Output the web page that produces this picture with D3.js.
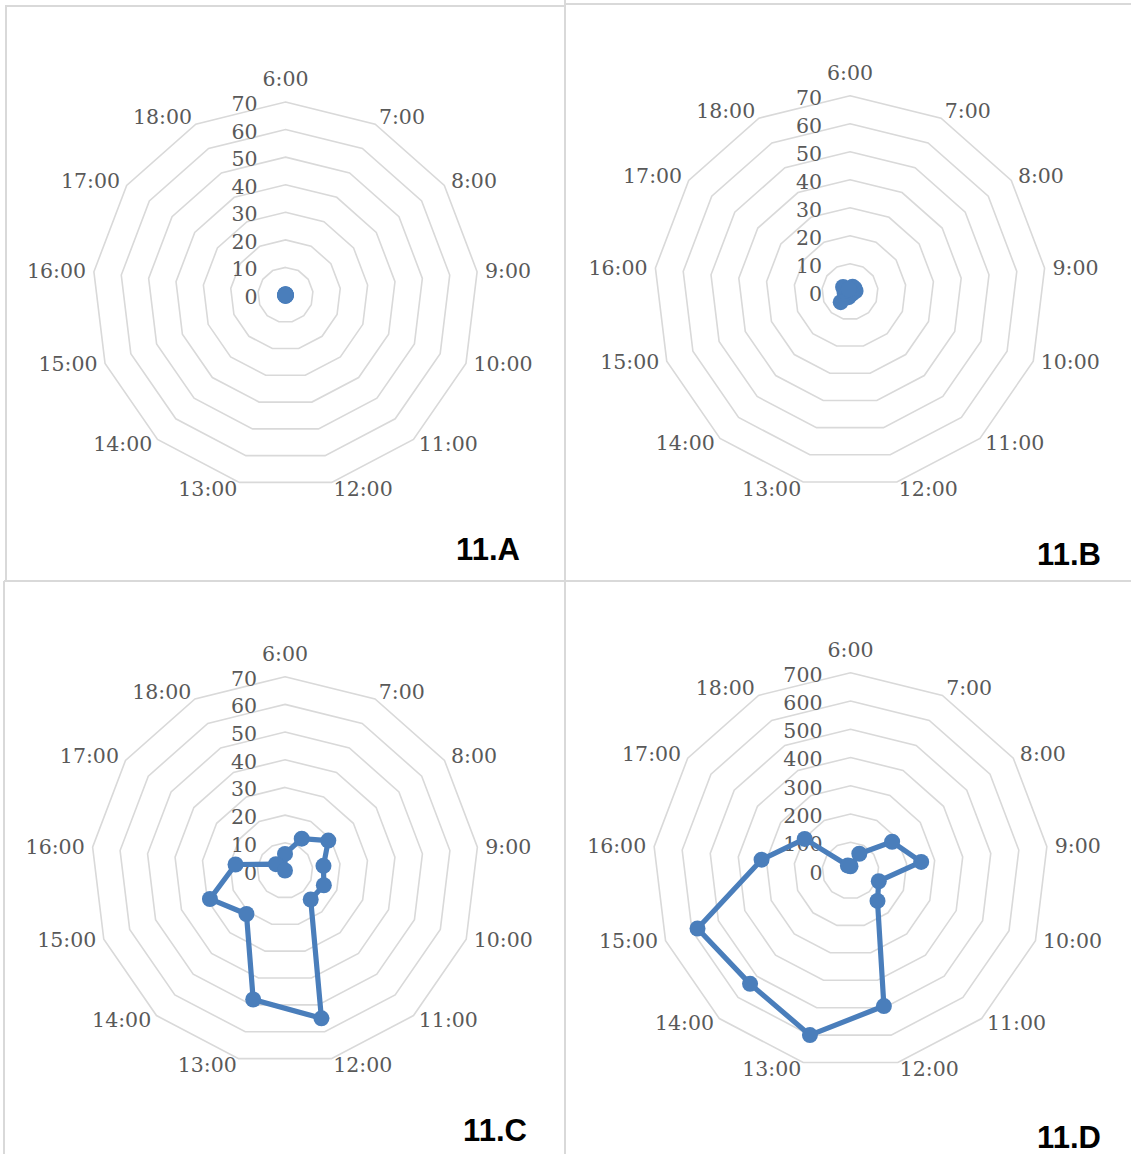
<!DOCTYPE html>
<html>
<head>
<meta charset="utf-8">
<script src="https://cdn.jsdelivr.net/npm/d3@7"></script>
<style>
  html, body { margin: 0; padding: 0; background: #ffffff; }
  svg { display: block; }
</style>
</head>
<body>
<svg id="chart" width="1131" height="1154"></svg>
<script>
// Hourly categories shared by all four radar panels
const hours = ["6:00", "7:00", "8:00", "9:00", "10:00", "11:00", "12:00",
               "13:00", "14:00", "15:00", "16:00", "17:00", "18:00"];

// Series values per panel (one value per hour)
const valuesA = [0.3, 0.2, 0.1, 0.1, 0.1, 0.2, 0.3, 0.3, 0.2, 0.1, 0.1, 0.1, 0.2];
const valuesB = [1, 2, 2, 2, 1, 1, 1, 2, 5, 2, 2, 3, 1];
const valuesC = [6, 13, 19, 14, 15, 14, 55, 48, 21, 29, 18, 4, 0];
const valuesD = [15, 67, 179, 252, 107, 144, 494, 600, 536, 579, 317, 197, 20];

// Radial tick labels
const ticksSmall = [0, 10, 20, 30, 40, 50, 60, 70];
const ticksLarge = [0, 100, 200, 300, 400, 500, 600, 700];

// Panel captions
const captions = ["11.A", "11.B", "11.C", "11.D"];

const panels = [
  { values: valuesA, ticks: ticksSmall, cx: 285.5, cy: 295,   R: 193,   caption: captions[0], capX: 488,  capY: 549 },
  { values: valuesB, ticks: ticksSmall, cx: 850,   cy: 291.7, R: 196,   caption: captions[1], capX: 1069, capY: 554 },
  { values: valuesC, ticks: ticksSmall, cx: 285,   cy: 870.5, R: 193.8, caption: captions[2], capX: 495,  capY: 1130 },
  { values: valuesD, ticks: ticksLarge, cx: 850.5, cy: 870.5, R: 197.8, caption: captions[3], capX: 1069, capY: 1137 }
];

const svg = d3.select("#chart");
const gridColor = "#d9d9d9";
const seriesColor = "#4a7ebb";
const textColor = "#595959";
const labelFont = "'DejaVu Serif', serif";
const labelSize = 20.5;

// Panel frames
const frame = svg.append("g").attr("stroke", gridColor).attr("stroke-width", 2).attr("fill", "none");
frame.append("path").attr("d", "M6,581 V6 H565");
frame.append("path").attr("d", "M565,4 H1131");
frame.append("line").attr("x1", 565).attr("y1", 0).attr("x2", 565).attr("y2", 1154);
frame.append("line").attr("x1", 4).attr("y1", 581).attr("x2", 1131).attr("y2", 581);
frame.append("line").attr("x1", 4).attr("y1", 581).attr("x2", 4).attr("y2", 1154);

// Angle of each hour, clockwise from the top
const angle = d3.scalePoint()
  .domain(hours)
  .range([0, 2 * Math.PI * (hours.length - 1) / hours.length]);

panels.forEach(p => {
  const maxV = p.ticks[p.ticks.length - 1];
  const r = d3.scaleLinear().domain([0, maxV]).range([0, p.R]);
  const g = svg.append("g").attr("transform", `translate(${p.cx},${p.cy})`);

  const ring = d3.lineRadial()
    .angle(d => angle(d))
    .curve(d3.curveLinearClosed);

  // Grid polygons
  g.selectAll("path.ring")
    .data(p.ticks.filter(t => t > 0))
    .join("path")
    .attr("class", "ring")
    .attr("d", t => ring.radius(() => r(t))(hours))
    .attr("fill", "none")
    .attr("stroke", gridColor)
    .attr("stroke-width", 1.6);

  // Radial value labels, stacked above the centre
  g.selectAll("text.tick")
    .data(p.ticks)
    .join("text")
    .attr("class", "tick")
    .attr("x", -28)
    .attr("y", t => -r(t) + 2)
    .attr("text-anchor", "end")
    .attr("dominant-baseline", "central")
    .attr("font-family", labelFont)
    .attr("font-size", labelSize)
    .attr("fill", textColor)
    .text(t => t);

  // Hour labels around the outside
  g.selectAll("text.hour")
    .data(hours)
    .join("text")
    .attr("class", "hour")
    .each(function (h) {
      const a = angle(h);
      const s = Math.sin(a), c = Math.cos(a);
      const vx = p.R * s, vy = -p.R * c;
      const el = d3.select(this);
      if (Math.abs(s) < 0.01) {
        el.attr("x", vx).attr("y", vy - 23).attr("text-anchor", "middle");
      } else {
        const dy = c > 0 ? -8.7 * c + 0.5 : -10 * c - 3;
        el.attr("x", vx + 8 * s).attr("y", vy + dy)
          .attr("text-anchor", s > 0 ? "start" : "end");
      }
    })
    .attr("dominant-baseline", "central")
    .attr("font-family", labelFont)
    .attr("font-size", labelSize)
    .attr("fill", textColor)
    .text(h => h);

  // Series line
  const series = hours.map((h, i) => ({ h, v: p.values[i] }));
  const line = d3.lineRadial()
    .angle(d => angle(d.h))
    .radius(d => r(d.v))
    .curve(d3.curveLinearClosed);

  g.append("path")
    .datum(series)
    .attr("d", line)
    .attr("fill", "none")
    .attr("stroke", seriesColor)
    .attr("stroke-width", 5.2)
    .attr("stroke-linejoin", "round");

  // Markers
  g.selectAll("circle.pt")
    .data(series)
    .join("circle")
    .attr("class", "pt")
    .attr("cx", d => r(d.v) * Math.sin(angle(d.h)))
    .attr("cy", d => -r(d.v) * Math.cos(angle(d.h)))
    .attr("r", 8)
    .attr("fill", seriesColor);

  // Panel caption
  svg.append("text")
    .attr("x", p.capX)
    .attr("y", p.capY)
    .attr("text-anchor", "middle")
    .attr("dominant-baseline", "central")
    .attr("font-family", "'Liberation Sans', Arial, sans-serif")
    .attr("font-weight", "bold")
    .attr("font-size", 31)
    .attr("fill", "#000000")
    .text(p.caption);
});
</script>
</body>
</html>
